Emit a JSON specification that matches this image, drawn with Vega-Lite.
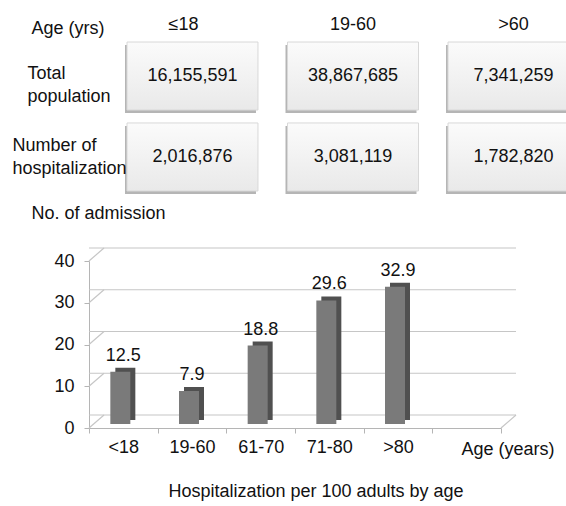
{
  "$schema": "https://vega.github.io/schema/vega-lite/v6.json",
  "background": "#ffffff",
  "padding": {"top": 15, "left": 12, "right": 0, "bottom": 0},
  "spacing": 10,
  "config": {
    "view": {"stroke": null},
    "font": "Liberation Sans",
    "text": {"font": "Liberation Sans", "color": "#111111"},
    "axis": {"labelFont": "Liberation Sans", "titleFont": "Liberation Sans", "labelColor": "#111111", "titleColor": "#111111", "titleFontWeight": "normal"}
  },
  "vconcat": [
    {
      "width": 476,
      "height": 149,
      "data": {
        "values": [
          {"row": "Total population", "age": "≤18", "value": "16,155,591"},
          {"row": "Total population", "age": "19-60", "value": "38,867,685"},
          {"row": "Total population", "age": ">60", "value": "7,341,259"},
          {"row": "Number of hospitalization", "age": "≤18", "value": "2,016,876"},
          {"row": "Number of hospitalization", "age": "19-60", "value": "3,081,119"},
          {"row": "Number of hospitalization", "age": ">60", "value": "1,782,820"}
        ]
      },
      "encoding": {
        "x": {
          "field": "age", "type": "nominal", "sort": ["≤18", "19-60", ">60"],
          "scale": {"range": [38, 490], "paddingInner": 0.184, "paddingOuter": 0},
          "axis": {
            "orient": "top", "title": null, "domain": false, "ticks": false, "tickSize": 0,
            "labelAngle": 0, "labelFontSize": 18, "labelPadding": 18, "labelBaseline": "middle",
            "labelOffset": {"condition": {"test": "datum.value == '≤18'", "value": -9}, "value": 0}
          }
        },
        "y": {
          "field": "row", "type": "nominal", "sort": ["Total population", "Number of hospitalization"],
          "scale": {"paddingInner": 0.16, "paddingOuter": 0},
          "axis": {
            "domain": false, "ticks": false, "tickSize": 0,
            "labelExpr": "datum.value == 'Total population' ? ['Total', 'population'] : ['Number of', 'hospitalization']",
            "labelAlign": "left", "labelBaseline": "middle", "labelFontSize": 18, "labelLineHeight": 23,
            "labelPadding": {"condition": {"test": "datum.value == 'Total population'", "value": 62}, "value": 77},
            "labelOffset": {"condition": {"test": "datum.value == 'Total population'", "value": -2}, "value": -11},
            "title": "Age (yrs)", "titleAngle": 0, "titleAlign": "left", "titleBaseline": "middle",
            "titleX": -58, "titleY": -14, "titleFontSize": 18
          }
        }
      },
      "layer": [
        {"mark": {"type": "rect", "color": "#b5b5b5", "xOffset": -2, "yOffset": 3}},
        {
          "mark": {
            "type": "rect", "stroke": "#d8d8d8", "strokeWidth": 1,
            "fill": {"gradient": "linear", "x1": 0, "y1": 0, "x2": 0, "y2": 1,
              "stops": [{"offset": 0, "color": "#fbfbfb"}, {"offset": 1, "color": "#e9e9e9"}]}
          }
        },
        {"mark": {"type": "text", "fontSize": 18}, "encoding": {"text": {"field": "value"}}}
      ]
    },
    {
      "width": 412,
      "height": 167,
      "title": {"text": "Hospitalization per 100 adults by age", "orient": "bottom", "anchor": "middle", "dx": 21, "offset": 25, "fontSize": 18, "fontWeight": "normal", "font": "Liberation Sans", "color": "#111111"},
      "data": {
        "values": [
          {"age": "<18", "v": 12.5},
          {"age": "19-60", "v": 7.9},
          {"age": "61-70", "v": 18.8},
          {"age": "71-80", "v": 29.6},
          {"age": ">80", "v": 32.9}
        ]
      },
      "encoding": {
        "x": {
          "field": "age", "type": "nominal",
          "scale": {"domain": ["<18", "19-60", "61-70", "71-80", ">80", "blank"], "paddingInner": 0, "paddingOuter": 0},
          "axis": {
            "labelExpr": "datum.value == 'blank' ? '' : datum.label",
            "tickBand": "extent", "labelAngle": 0, "labelFontSize": 18, "labelPadding": 5,
            "domainColor": "#b5b5b5", "tickColor": "#b5b5b5", "tickSize": 5,
            "title": "Age (years)", "titleX": 372, "titleY": 21, "titleAlign": "left", "titleBaseline": "middle", "titleFontSize": 18
          }
        },
        "y": {
          "field": "v", "type": "quantitative",
          "scale": {"domain": [0, 40], "nice": false},
          "axis": {
            "values": [0, 10, 20, 30, 40], "grid": false,
            "domainColor": "#b5b5b5", "tickColor": "#b5b5b5", "tickSize": 5,
            "labelFontSize": 18, "labelPadding": 10,
            "title": "No. of admission", "titleAngle": 0, "titleAlign": "left", "titleBaseline": "middle",
            "titleX": -58, "titleY": -48, "titleFontSize": 18
          }
        }
      },
      "layer": [
        {
          "data": {"values": [{"g": 0}, {"g": 10}, {"g": 20}, {"g": 30}, {"g": 40}]},
          "mark": {"type": "rule", "color": "#c6c6c6", "strokeWidth": 1.2, "xOffset": 15, "x2Offset": 15, "yOffset": -13},
          "encoding": {"x": null, "y": {"field": "g", "type": "quantitative"}}
        },
        {
          "data": {"values": [{"g": 0}, {"g": 10}, {"g": 20}, {"g": 30}, {"g": 40}]},
          "mark": {"type": "rule", "color": "#c6c6c6", "strokeWidth": 1.2, "x2Offset": 15, "y2Offset": -13},
          "encoding": {
            "x": {"datum": "<18", "bandPosition": 0},
            "x2": {"datum": "<18", "bandPosition": 0},
            "y": {"field": "g", "type": "quantitative"},
            "y2": {"field": "g"}
          }
        },
        {
          "data": {"values": [{"g": 0}]},
          "mark": {"type": "rule", "color": "#c6c6c6", "strokeWidth": 1.2, "x2Offset": 15, "y2Offset": -13},
          "encoding": {
            "x": {"datum": "blank", "bandPosition": 1},
            "x2": {"datum": "blank", "bandPosition": 1},
            "y": {"field": "g", "type": "quantitative"},
            "y2": {"field": "g"}
          }
        },
        {"mark": {"type": "bar", "width": 20, "color": "#505050", "xOffset": 2, "yOffset": -8, "y2Offset": -8}},
        {"mark": {"type": "bar", "width": 20, "color": "#7a7a7a", "xOffset": -3, "yOffset": -4, "y2Offset": -4}},
        {"mark": {"type": "text", "fontSize": 18, "dy": -20}, "encoding": {"text": {"field": "v", "format": ".1f"}}}
      ]
    }
  ]
}
